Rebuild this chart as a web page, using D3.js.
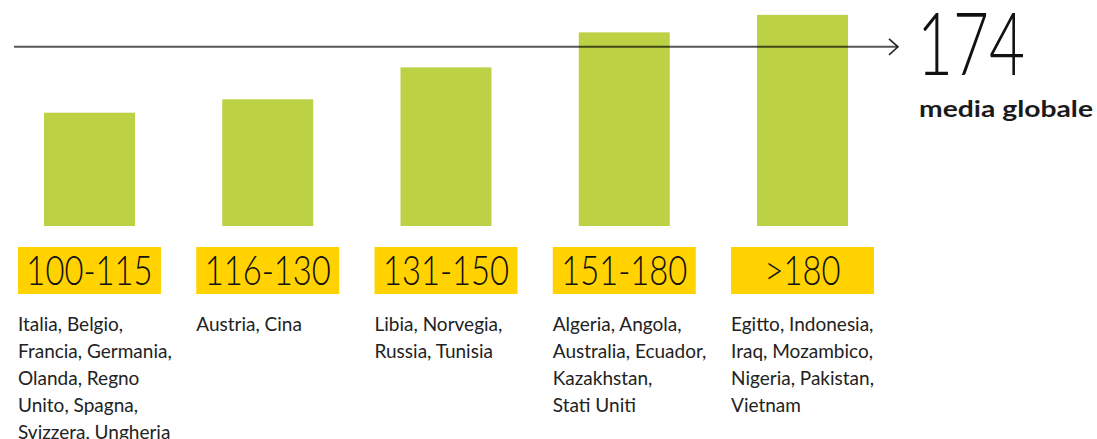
<!DOCTYPE html>
<html>
<head>
<meta charset="utf-8">
<script src="https://cdn.jsdelivr.net/npm/d3@7"></script>
<style>
  body { margin: 0; background: #fff; }
  svg { display: block; }
  .range { font-family: Lato, "Open Sans", sans-serif; font-weight: 300; }
  .countries { font-family: Lato, "Open Sans", sans-serif; font-weight: 400; }
</style>
</head>
<body>
<svg id="chart" width="1097" height="439"></svg>
<script>
// fasce e valori
const categories = ['100-115', '116-130', '131-150', '151-180', '>180'];
const values = [110, 123, 154, 188, 205];
const countries = [
  ['Italia, Belgio,', 'Francia, Germania,', 'Olanda, Regno', 'Unito, Spagna,', 'Svizzera, Ungheria'],
  ['Austria, Cina'],
  ['Libia, Norvegia,', 'Russia, Tunisia'],
  ['Algeria, Angola,', 'Australia, Ecuador,', 'Kazakhstan,', 'Stati Uniti'],
  ['Egitto, Indonesia,', 'Iraq, Mozambico,', 'Nigeria, Pakistan,', 'Vietnam']
];
const average = 174;
const averageLabel = 'media globale';

const svg = d3.select('#chart');

const x = d3.scaleBand()
  .domain(categories)
  .range([18, 874])
  .paddingInner(0.198)
  .paddingOuter(0);

const y = d3.scaleLinear()
  .domain([0, 200])
  .range([226, 20]);

const barW = 91;

// testo in alto (tagliato)
svg.append('text')
  .attr('x', 18)
  .attr('y', -4)
  .attr('font-family', 'Lato, sans-serif')
  .attr('font-size', 15)
  .attr('fill', '#555')
  .text('Il consumo nei paesi raggruppati per fascia, rispetto alla media dei paesi,');

// barre
svg.selectAll('rect.bar')
  .data(values)
  .join('rect')
  .attr('class', 'bar')
  .attr('x', (d, i) => x(categories[i]) + (x.bandwidth() - barW) / 2)
  .attr('y', d => y(d))
  .attr('width', barW)
  .attr('height', d => y(0) - y(d))
  .attr('fill', '#bdd145');

// freccia media
const ay = y(average);
svg.append('line')
  .attr('x1', 14).attr('x2', 897)
  .attr('y1', ay).attr('y2', ay)
  .attr('stroke', 'rgba(0,0,0,0.66)')
  .attr('stroke-width', 2);
svg.append('path')
  .attr('d', `M889,${ay - 8} L898,${ay} L889,${ay + 8}`)
  .attr('fill', 'none')
  .attr('stroke', 'rgba(0,0,0,0.85)')
  .attr('stroke-width', 1.6);

svg.append('text')
  .attr('x', 917)
  .attr('y', 75)
  .attr('font-family', 'Lato, sans-serif')
  .attr('font-weight', 300)
  .attr('font-size', 86)
  .attr('textLength', 108)
  .attr('lengthAdjust', 'spacingAndGlyphs')
  .attr('fill', '#111')
  .text(average);

svg.append('text')
  .attr('x', 919)
  .attr('y', 117)
  .attr('font-family', 'Lato, sans-serif')
  .attr('font-weight', 700)
  .attr('font-size', 22)
  .attr('textLength', 174)
  .attr('lengthAdjust', 'spacingAndGlyphs')
  .attr('fill', '#1a1a1a')
  .text(averageLabel);

// etichette fasce
const g = svg.selectAll('g.cat')
  .data(categories)
  .join('g')
  .attr('class', 'cat')
  .attr('transform', d => `translate(${x(d)},0)`);

g.append('rect')
  .attr('y', 247)
  .attr('width', x.bandwidth())
  .attr('height', 47)
  .attr('fill', '#ffd200');

g.append('text')
  .attr('class', 'range')
  .attr('transform', `translate(${x.bandwidth() / 2},285) scale(0.8,1)`)
  .attr('text-anchor', 'middle')
  .attr('font-size', 41)
  .attr('fill', '#111')
  .text(d => d);

g.append('text')
  .attr('class', 'countries')
  .attr('font-size', 19)
  .attr('fill', '#222')
  .selectAll('tspan')
  .data((d, i) => countries[i])
  .join('tspan')
  .attr('x', 0)
  .attr('y', (d, j) => 331 + j * 27)
  .text(d => d);
</script>
</body>
</html>
